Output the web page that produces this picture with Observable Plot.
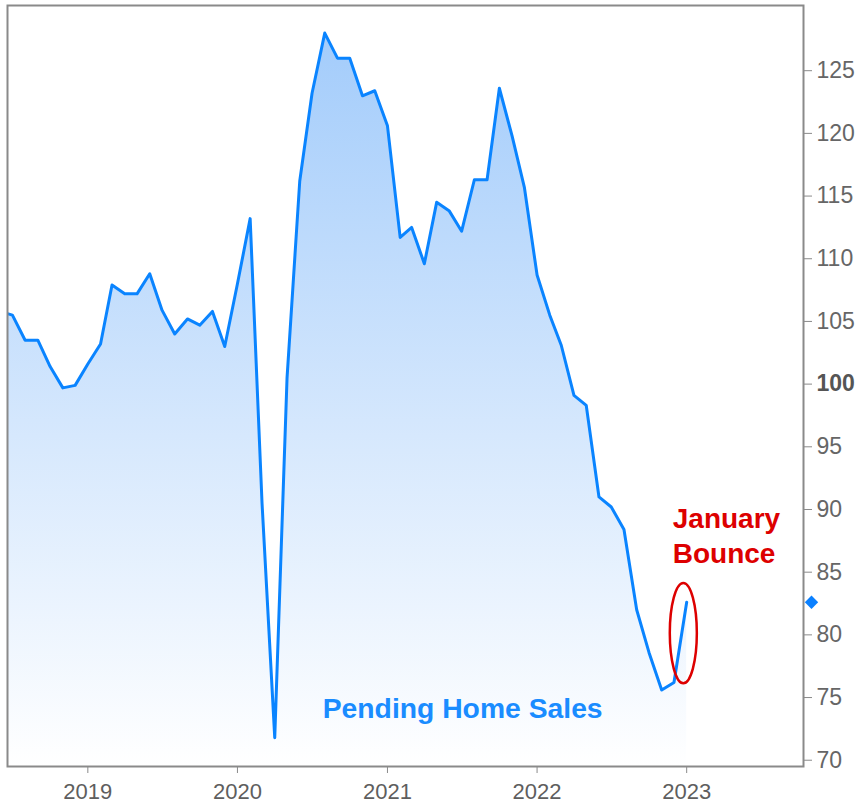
<!DOCTYPE html>
<html>
<head>
<meta charset="utf-8">
<script src="https://cdn.jsdelivr.net/npm/d3@7"></script>
<script src="https://cdn.jsdelivr.net/npm/@observablehq/plot@0.6"></script>
<style>
  html, body { margin: 0; padding: 0; background: #ffffff; }
  #chart svg { display: block; }
</style>
</head>
<body>
<div id="chart"></div>
<script>
// ---- data ----
const months = [
  "2018-06","2018-07","2018-08","2018-09","2018-10","2018-11","2018-12",
  "2019-01","2019-02","2019-03","2019-04","2019-05","2019-06","2019-07","2019-08","2019-09","2019-10","2019-11","2019-12",
  "2020-01","2020-02","2020-03","2020-04","2020-05","2020-06","2020-07","2020-08","2020-09","2020-10","2020-11","2020-12",
  "2021-01","2021-02","2021-03","2021-04","2021-05","2021-06","2021-07","2021-08","2021-09","2021-10","2021-11","2021-12",
  "2022-01","2022-02","2022-03","2022-04","2022-05","2022-06","2022-07","2022-08","2022-09","2022-10","2022-11","2022-12",
  "2023-01"
];
const pendingSales = [
  105.8,105.5,103.5,103.5,101.4,99.7,99.9,
  101.6,103.2,107.9,107.2,107.2,108.8,105.9,104.0,105.2,104.7,105.8,103.0,
  108.0,113.2,90.5,71.8,100.5,116.2,123.2,128.0,126.0,126.0,123.0,123.4,
  120.6,111.7,112.5,109.6,114.5,113.8,112.2,116.3,116.3,123.6,119.8,115.7,
  108.7,105.5,103.1,99.1,98.3,91.0,90.2,88.4,82.0,78.6,75.6,76.2,
  82.6
];
const yTicks = [70, 75, 80, 85, 90, 95, 100, 105, 110, 115, 120, 125];
const xTickYears = [2019, 2020, 2021, 2022, 2023];
const seriesLabel = "Pending Home Sales";
const bounceLabel = "January\nBounce";

// ---- build table ----
const data = months.map((m, i) => ({date: new Date(m + "-01T00:00:00Z"), value: pendingSales[i]}));
const last = data[data.length - 1];
const xTicks = xTickYears.map(y => new Date(Date.UTC(y, 0, 1)));

const yDomain = [69.5, 130.2];
const xDomain = [new Date("2018-06-19T00:00:00Z"), new Date("2023-10-13T00:00:00Z")];

const lineColor = "#0a84ff";
const labelColor = "#1a8cff";
const red = "#dd0000";

// gradient definition placed with the scales
const gradientDefs = (index, scales) => {
  const defs = d3.create("svg:defs");
  const g = defs.append("linearGradient")
    .attr("id", "phsFill")
    .attr("gradientUnits", "userSpaceOnUse")
    .attr("x1", 0).attr("x2", 0)
    .attr("y1", scales.y(d3.max(pendingSales)))
    .attr("y2", scales.y(yDomain[0]));
  g.append("stop").attr("offset", "0%").attr("stop-color", "#a3ccfb");
  g.append("stop").attr("offset", "55%").attr("stop-color", "#d6e8fd");
  g.append("stop").attr("offset", "100%").attr("stop-color", "#ffffff");
  return defs.node();
};

// red ring around the January bounce
const bounceRing = (index, scales) => {
  const xa = scales.x(new Date("2022-11-22T00:00:00Z"));
  const xb = scales.x(new Date("2023-01-27T00:00:00Z"));
  const ya = scales.y(84.1);
  const yb = scales.y(76.1);
  return d3.create("svg:ellipse")
    .attr("cx", (xa + xb) / 2)
    .attr("cy", (ya + yb) / 2)
    .attr("rx", Math.abs(xb - xa) / 2)
    .attr("ry", Math.abs(yb - ya) / 2)
    .attr("fill", "none")
    .attr("stroke", red)
    .attr("stroke-width", 2.5)
    .node();
};

const chart = Plot.plot({
  width: 862,
  height: 805,
  marginLeft: 7,
  marginTop: 5,
  marginRight: 59,
  marginBottom: 39,
  style: {fontFamily: "'Liberation Sans', Arial, sans-serif", background: "#ffffff", overflow: "visible"},
  x: {type: "utc", domain: xDomain},
  y: {domain: yDomain},
  marks: [
    gradientDefs,
    Plot.area(data, {x1: "date", y1: yDomain[0], y2: "value", fill: "url(#phsFill)", clip: true}),
    Plot.line(data, {x: "date", y: "value", stroke: lineColor, strokeWidth: 3, clip: true}),
    Plot.frame({stroke: "#8a8a8a", strokeWidth: 2}),
    Plot.axisY(yTicks.filter(t => t !== 100), {
      anchor: "right", tickSize: 8, tickPadding: 5, fontSize: 23,
      stroke: "#8a8a8a", fill: "#666666", label: null
    }),
    Plot.axisY([100], {
      anchor: "right", tickSize: 8, tickPadding: 5, fontSize: 23, fontWeight: "bold",
      stroke: "#8a8a8a", fill: "#555555", label: null
    }),
    Plot.axisX(xTicks, {
      anchor: "bottom", tickSize: 7, tickPadding: 10, fontSize: 22, tickFormat: "%Y",
      stroke: "#8a8a8a", fill: "#5e5e5e", label: null
    }),
    Plot.text([{date: new Date("2020-07-27T00:00:00Z"), value: 73.35, label: seriesLabel}], {
      x: "date", y: "value", text: "label", textAnchor: "start", lineAnchor: "bottom",
      fontSize: 28.3, fontWeight: "bold", fill: labelColor
    }),
    Plot.text([{date: new Date("2022-11-28T00:00:00Z"), value: 85.7, label: bounceLabel}], {
      x: "date", y: "value", text: "label", textAnchor: "start", lineAnchor: "bottom",
      lineHeight: 1.25, fontSize: 28, fontWeight: "bold", fill: red
    }),
    bounceRing,
    Plot.dot([last], {y: "value", frameAnchor: "right", dx: 8, symbol: "diamond2", r: 6, fill: "#0a80ff", stroke: null})
  ]
});

document.getElementById("chart").appendChild(chart);
</script>
</body>
</html>
